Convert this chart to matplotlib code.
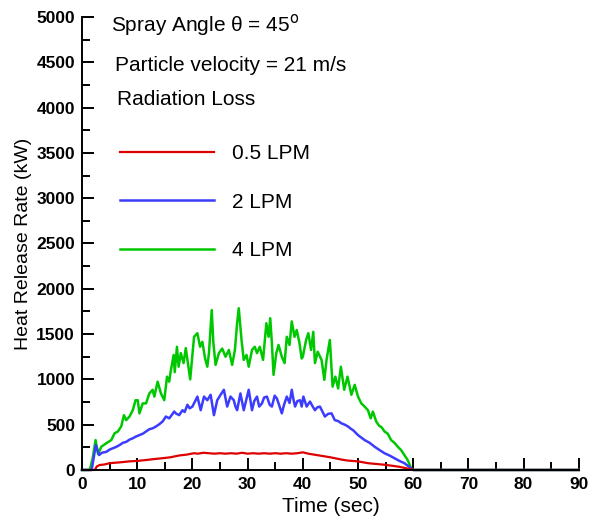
import matplotlib.pyplot as plt
from matplotlib.ticker import MultipleLocator

plt.rcParams['font.family'] = ['Liberation Sans', 'DejaVu Sans']

# Heat release rate (kW) vs time (sec)
red_t = [0, 2.3, 2.7, 3.2, 4.0, 5.0, 6.0, 7.0, 8.6, 10, 11.6, 13, 14.6, 16, 17.6, 19,
         20.3, 21, 22, 23, 24, 25, 26, 27, 28, 29, 30, 31, 32, 33, 34, 35, 36, 37,
         38, 39, 40, 41, 42, 43, 44, 45, 45.8, 47, 48, 50, 51.8, 53, 54.8, 56, 57.5,
         59.6, 60, 90]
red_v = [0, 0, 40, 55, 60, 75, 80, 85, 95, 100, 110, 120, 130, 140, 160, 170,
         185, 180, 190, 185, 180, 185, 180, 185, 180, 190, 180, 185, 180, 185, 180, 185, 180, 185,
         180, 185, 195, 180, 170, 160, 150, 140, 130, 115, 105, 95, 75, 68, 58, 48, 35,
         8, 0, 0]

blue_t = [0, 1.75, 2.5, 3.1, 3.6, 4.4, 5.0, 5.6, 6.2, 6.8, 7.4, 8.0, 8.6, 9.2, 9.8, 10.4,
          11.0, 11.6, 12.2, 12.8, 13.4, 14.0, 14.6, 15.2, 15.8, 16.3, 16.7, 17.0, 17.6,
          18.2, 18.6, 19.1, 19.5, 20.0, 20.5, 20.9, 21.5, 22.1, 22.7, 23.3, 23.9, 24.5,
          25.1, 25.7, 26.3, 26.9, 27.5, 27.8, 28.1, 28.7, 29.3, 29.7, 30.2, 30.8, 31.2,
          31.7, 32.1, 32.6, 33.0, 33.5, 34.0, 34.4, 34.9, 35.3, 35.8, 36.2, 36.6, 37.1,
          37.6, 38.0, 38.3, 38.6, 39.0, 39.5, 39.8, 40.1, 40.7, 41.3, 41.8, 42.2, 42.6,
          43.1, 43.6, 44.0, 44.6, 45.2, 45.8, 46.4, 47.0, 47.6, 48.2, 48.7, 49.1, 50.0,
          51.2, 52.1, 53.0, 53.9, 54.8, 55.7, 56.6, 57.5, 58.4, 59.6, 60, 90]
blue_v = [0, 0, 275, 165, 190, 200, 225, 240, 255, 275, 300, 310, 335, 350, 370, 385,
          400, 425, 450, 460, 480, 505, 535, 590, 570, 610, 645, 625, 605,
          660, 640, 720, 680, 700, 760, 810, 660, 810, 770, 830, 605, 770,
          830, 885, 700, 810, 770, 700, 660, 845, 660, 760, 885, 660, 760,
          810, 700, 735, 800, 810, 720, 700, 820, 790, 700, 625, 720, 810,
          740, 885, 780, 700, 760, 770, 700, 810, 700, 755, 700, 660, 690,
          700, 640, 590, 620, 625, 550, 540, 515, 500, 480, 455, 440, 385,
          330, 300, 257, 220, 185, 160, 130, 100, 75, 20, 0, 0]

green_t = [0, 1.4, 1.9, 2.46, 2.9, 3.5, 4.4, 5.3, 5.9, 6.5, 7.1, 7.6, 8.0, 8.6, 9.2, 9.7,
           10.1, 10.4, 11.0, 11.6, 12.2, 12.8, 13.1, 13.7, 14.3, 14.9, 15.4, 15.8, 16.0,
           16.6, 16.8, 17.2, 17.5, 17.9, 18.4, 18.8, 19.6, 20.3, 20.9, 21.4, 21.8, 22.3,
           22.7, 23.0, 23.5, 23.8, 24.2, 24.8, 25.4, 26.0, 26.6, 27.2, 27.7, 28.1, 28.4,
           28.9, 29.3, 29.8, 30.2, 30.8, 31.3, 31.7, 32.2, 32.8, 33.4, 33.8, 34.1, 34.4,
           34.7, 35.2, 35.6, 36.2, 36.7, 37.1, 37.6, 38.0, 38.5, 38.9, 39.4, 39.8, 40.0,
           40.6, 41.0, 41.5, 41.9, 42.2, 42.7, 43.4, 43.9, 44.3, 44.9, 45.4, 45.9, 46.4,
           46.9, 47.5, 48.1, 48.8, 49.4, 50.0, 50.6, 51.2, 51.8, 52.3, 52.7, 53.3, 53.8,
           54.3, 54.8, 55.4, 56.0, 56.6, 57.2, 57.8, 58.4, 59.0, 59.6, 60, 90]
green_v = [0, 0, 120, 330, 175, 257, 295, 330, 405, 425, 480, 605, 550, 590, 660, 770,
           770, 625, 735, 735, 845, 885, 810, 975, 845, 770, 1030, 975, 1065,
           1270, 1080, 1360, 1140, 1290, 1180, 1345, 1000, 1470, 1510, 1360, 1415, 1230,
           1140, 1290, 1765, 1400, 1160, 1290, 1340, 1250, 1325, 1160, 1325, 1620, 1785,
           1435, 1215, 1270, 1140, 1325, 1360, 1290, 1360, 1215, 1620, 1470, 1675, 1400,
           1050, 1290, 1380, 1250, 1180, 1470, 1380, 1640, 1470, 1545, 1400, 1230, 1250,
           1435, 1510, 1325, 1525, 1180, 1305, 1215, 995, 1215, 1435, 920, 1030, 900,
           1140, 885, 1030, 830, 940, 810, 735, 700, 660, 570, 645, 535, 490,
           470, 425, 400, 330, 300, 257, 220, 165, 110, 20, 0, 0]

labels = ['0.5 LPM', '2 LPM', '4 LPM']
colors = ['#dc0000', '#3c3cff', '#00c800']

fig = plt.figure(figsize=(5.9, 5.18), dpi=100)
ax = fig.add_axes([0.139, 0.0927, 0.842, 0.8745])

ax.plot(green_t, green_v, color=colors[2], lw=1.8, label=labels[2], clip_on=False)
ax.plot(blue_t, blue_v, color=colors[1], lw=1.8, label=labels[1], clip_on=False)
ax.plot(red_t, red_v, color=colors[0], lw=1.6, label=labels[0], clip_on=False)

ax.set_xlim(0, 90)
ax.set_ylim(0, 5000)
ax.xaxis.set_major_locator(MultipleLocator(10))
ax.xaxis.set_minor_locator(MultipleLocator(5))
ax.yaxis.set_major_locator(MultipleLocator(500))
ax.yaxis.set_minor_locator(MultipleLocator(250))
ax.tick_params(which='both', direction='in', width=1.4, pad=5, labelsize=12.5)
ax.tick_params(which='major', length=8.5)
ax.tick_params(which='minor', length=5.5)
for lab in ax.get_xticklabels() + ax.get_yticklabels():
    lab.set_fontweight('bold')

ax.spines['top'].set_visible(False)
ax.spines['right'].set_visible(False)
ax.spines['left'].set_linewidth(1.4)
ax.spines['bottom'].set_linewidth(1.4)

ax.set_xlabel('Time (sec)', fontsize=15, labelpad=4)
ax.set_ylabel('Heat Release Rate (kW)', fontsize=14, labelpad=3)

ax.text(0.058, 0.982, r'Spray Angle θ = 45$^{\rm o}$', transform=ax.transAxes,
        fontsize=15, va='center')
ax.text(0.066, 0.894, 'Particle velocity = 21 m/s', transform=ax.transAxes,
        fontsize=15, va='center')
ax.text(0.070, 0.817, 'Radiation Loss', transform=ax.transAxes,
        fontsize=15, va='center')

h, l = ax.get_legend_handles_labels()
ax.legend(h[::-1], l[::-1], loc='upper left', bbox_to_anchor=(0.06, 0.737),
          frameon=False, fontsize=15, handlelength=4.5, handletextpad=0.85,
          labelspacing=1.4, borderaxespad=0)

fig.savefig('out.png', dpi=100)
